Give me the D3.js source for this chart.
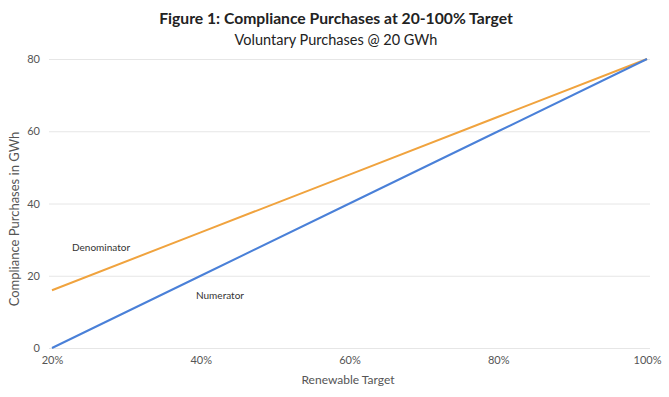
<!DOCTYPE html>
<html>
<head>
<meta charset="utf-8">
<script src="https://cdnjs.cloudflare.com/ajax/libs/d3/7.8.5/d3.min.js"></script>
<style>
  body { margin: 0; background: #fff; }
  text { font-family: Lato, "Open Sans", sans-serif; }
</style>
</head>
<body>
<div id="chart"></div>
<script>
// data
var targets = [0.2, 0.4, 0.6, 0.8, 1.0];
var numerator = [0, 20, 40, 60, 80];
var denominator = [16, 32, 48, 64, 80];
var yTicks = [0, 20, 40, 60, 80];

var W = 669, H = 397;
var svg = d3.select('#chart').append('svg')
    .attr('width', W).attr('height', H);

var x = d3.scaleLinear().domain([0.2, 1.0]).range([52, 647]);
var y = d3.scaleLinear().domain([0, 80]).range([348, 59]);

// gridlines
svg.append('g')
    .attr('transform', 'translate(49,0)')
    .call(d3.axisLeft(y).tickValues(yTicks).tickSize(-601).tickFormat(function(d){ return d; }))
    .call(function(g){
      g.select('.domain').remove();
      g.selectAll('line').attr('stroke', '#e6e6e6').attr('stroke-width', 1);
      g.selectAll('text').attr('x', -9).attr('fill', '#555').style('font-size', '11px');
    });

svg.append('g')
    .attr('transform', 'translate(0,348)')
    .call(d3.axisBottom(x).tickValues(targets).tickSize(0).tickFormat(d3.format('.0%')))
    .call(function(g){
      g.select('.domain').remove();
      g.selectAll('text').attr('dy', '1.2em').attr('fill', '#555').style('font-size', '11px');
    });

function draw(vals, color) {
  var line = d3.line()
      .x(function(d, i){ return x(targets[i]); })
      .y(function(d){ return y(d); });
  svg.append('path')
      .attr('fill', 'none')
      .attr('stroke', color)
      .attr('stroke-width', 2)
      .attr('d', line(vals));
}
draw(denominator, '#f0a33e');
draw(numerator, '#4a80d8');

// labels
svg.append('text').attr('x', 72).attr('y', 251).attr('fill', '#333')
    .style('font-size', '10px').text('Denominator');
svg.append('text').attr('x', 196).attr('y', 299).attr('fill', '#333')
    .style('font-size', '10px').text('Numerator');

svg.append('text').attr('x', 348).attr('y', 384).attr('text-anchor', 'middle')
    .attr('fill', '#555').style('font-size', '12px').text('Renewable Target');
svg.append('text').attr('transform', 'translate(19,219) rotate(-90)')
    .attr('text-anchor', 'middle').attr('fill', '#555').style('font-size', '13px')
    .text('Compliance Purchases in GWh');

svg.append('text').attr('x', 336).attr('y', 24).attr('text-anchor', 'middle')
    .attr('fill', '#222').style('font-size', '15.7px').style('font-weight', 'bold')
    .text('Figure 1: Compliance Purchases at 20-100% Target');
svg.append('text').attr('x', 336).attr('y', 45).attr('text-anchor', 'middle')
    .attr('fill', '#222').style('font-size', '14.5px')
    .text('Voluntary Purchases @ 20 GWh');
</script>
</body>
</html>
